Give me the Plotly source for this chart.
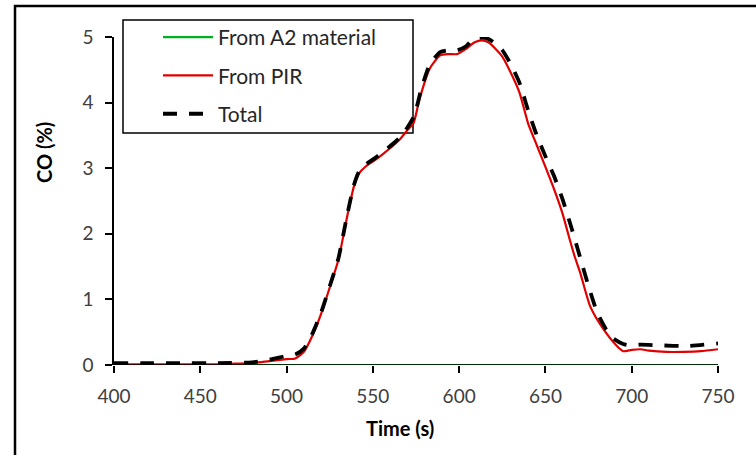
import plotly.graph_objects as go

# ---- data ----
time_pir = [400, 420, 440, 460, 470, 480, 490, 500, 505, 510, 515, 520, 525, 530, 535, 539,
            542, 546, 551, 556, 562, 566, 570, 573.5, 577, 583, 589, 594, 599, 604, 609, 613,
            617, 621, 625, 630, 635, 640, 645, 650, 655, 660, 664, 667, 670, 676, 684, 691,
            695, 700, 705, 710, 720, 730, 740, 750]
co_pir = [0.01, 0.01, 0.01, 0.01, 0.02, 0.03, 0.06, 0.09, 0.10, 0.20, 0.45, 0.78, 1.18, 1.60,
          2.25, 2.72, 2.92, 3.03, 3.12, 3.22, 3.35, 3.45, 3.58, 3.68, 4.05, 4.52, 4.72, 4.74,
          4.74, 4.82, 4.92, 4.95, 4.92, 4.82, 4.70, 4.45, 4.15, 3.68, 3.35, 3.02, 2.68, 2.30,
          1.92, 1.65, 1.42, 0.89, 0.53, 0.30, 0.21, 0.23, 0.24, 0.22, 0.20, 0.20, 0.21, 0.24]

time_total = [400, 420, 440, 460, 480, 490, 500, 505, 510, 515, 520, 525, 530, 535, 539, 542,
              546, 551, 556, 562, 566, 570, 574, 578, 583, 589, 594, 599, 604, 608, 613, 617,
              621, 625, 630, 635, 640, 645, 650, 655, 660, 665, 670, 675, 680, 685, 689, 695,
              699, 705, 716, 732, 750]
co_total = [0.03, 0.03, 0.03, 0.03, 0.04, 0.08, 0.14, 0.16, 0.25, 0.48, 0.80, 1.20, 1.62, 2.27,
            2.74, 2.95, 3.06, 3.15, 3.25, 3.38, 3.48, 3.62, 3.80, 4.20, 4.58, 4.77, 4.80, 4.80,
            4.86, 4.97, 4.99, 4.97, 4.90, 4.80, 4.58, 4.30, 3.88, 3.50, 3.18, 2.88, 2.52, 2.10,
            1.65, 1.20, 0.80, 0.55, 0.41, 0.32, 0.30, 0.31, 0.30, 0.29, 0.33]

time_a2 = [400, 500, 600, 700, 750]
co_a2 = [0.0, 0.0, 0.0, 0.0, 0.0]

x_ticks = [400, 450, 500, 550, 600, 650, 700, 750]
y_ticks = [0, 1, 2, 3, 4, 5]

# ---- geometry helpers (pixels -> paper) ----
W, H = 756, 455
L, R, T, B = 114, 718, 37, 365
def px(xp):
    return (xp - L) / (R - L)
def py(yp):
    return (B - yp) / (B - T)

FONT = "Lato"
TXT = "#262626"

fig = go.Figure()
fig.add_trace(go.Scatter(x=time_a2, y=co_a2, mode="lines", name="From A2 material",
                         line=dict(color="#00b020", width=2.2), legendgroup="a"))
fig.add_trace(go.Scatter(x=time_pir, y=co_pir, mode="lines", name="From PIR",
                         line=dict(color="#e00000", width=2.2, shape="spline", smoothing=0.6),
                         legendgroup="b"))
fig.add_trace(go.Scatter(x=time_total, y=co_total, mode="lines", name="Total",
                         line=dict(color="black", width=3.8, dash="14px,12px",
                                   shape="spline", smoothing=0.6),
                         legendgroup="c"))

axis_common = dict(ticks="outside", ticklen=7, tickwidth=1.5, tickcolor="black",
                   showgrid=False, zeroline=False,
                   tickfont=dict(family=FONT, size=19, color="#404040"))

# x axis line is drawn on y = 0 (as in the original spreadsheet chart), see shapes
fig.update_xaxes(range=[400, 750], tickvals=x_ticks, showline=False,
                 ticklabelstandoff=7, **axis_common)
fig.update_yaxes(range=[0, 5], tickvals=y_ticks, showline=True, linecolor="black",
                 linewidth=1.5, ticklabelstandoff=8, **axis_common)

fig.update_layout(
    width=W, height=H, autosize=False,
    margin=dict(l=L, r=W - R, t=T, b=H - B, pad=0),
    plot_bgcolor="white", paper_bgcolor="white",
    showlegend=True,
    legend=dict(x=px(158), y=py(17), xanchor="left", yanchor="top",
                bgcolor="rgba(0,0,0,0)", borderwidth=0,
                font=dict(family=FONT, size=21, color=TXT),
                traceorder="grouped", tracegroupgap=8, itemwidth=50),
    shapes=[
        # outer frame of the picture
        dict(type="rect", xref="paper", yref="paper", x0=px(15), x1=px(800),
             y0=py(500), y1=py(6), line=dict(color="black", width=2.5)),
        # legend box
        dict(type="rect", xref="paper", yref="paper", x0=px(123), x1=px(413),
             y0=py(133), y1=py(20), line=dict(color="black", width=1.5),
             fillcolor="white", layer="below"),
        # x axis line at y = 0
        dict(type="line", xref="paper", yref="y", x0=px(107), x1=1, y0=0, y1=0,
             line=dict(color="black", width=1.5), layer="above"),
    ],
    annotations=[
        dict(text="<b>CO (%)</b>", xref="paper", yref="paper", x=px(44), y=py(153),
             xanchor="center", yanchor="middle", textangle=-90, showarrow=False,
             font=dict(family=FONT, size=20, color="black")),
        dict(text="<b>Time (s)</b>", xref="paper", yref="paper", x=px(400), y=py(428),
             xanchor="center", yanchor="middle", showarrow=False,
             font=dict(family=FONT, size=20, color="black")),
    ],
)

fig.write_html("out.html")
